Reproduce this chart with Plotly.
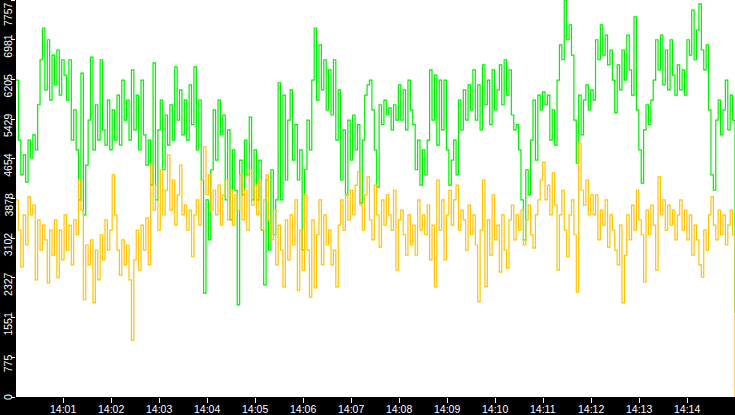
import pandas as pd
import plotly.graph_objects as go

# samples, ~3 s apart, 14:00:01 -> 14:15:00
green = [
    6190, 5020, 4340, 4730, 4200, 5020, 4670, 5120, 4830, 5710,
    6590, 7210, 6000, 6980, 5800, 6680, 6100, 6780, 5900, 6590,
    6290, 5800, 6590, 5020, 5610, 4830, 3850, 6330, 3560, 4530,
    5410, 6640, 4830, 5710, 5020, 6590, 5220, 4920, 5800, 4830,
    5610, 5020, 5900, 4920, 6190, 5410, 5800, 5020, 6390, 5220,
    5900, 4830, 6190, 5120, 4530, 5020, 4140, 6530, 3850, 5220,
    5800, 4440, 5510, 4920, 5710, 5020, 6450, 5410, 6000, 5120,
    5800, 5020, 6100, 5320, 6450, 4830, 5800, 4240, 2030, 3850,
    3070, 4440, 5610, 4630, 5800, 5120, 5510, 3850, 5220, 3460,
    4830, 4040, 1800, 4630, 3950, 5020, 4340, 5470, 3850, 4830,
    3850, 4630, 3260, 2190, 4240, 2870, 4440, 3170, 3850, 6140,
    3850, 5900, 4240, 5410, 6000, 4630, 5320, 4240, 4830, 2870,
    4440, 5410, 4830, 6190, 7210, 5800, 6880, 6000, 6590, 5610,
    6390, 5510, 6590, 5020, 6000, 4240, 5220, 3950, 5410, 4630,
    5510, 4830, 5320, 3790, 5020, 5900, 6100, 6190, 5610, 4830,
    4100, 5710, 5320, 5800, 5510, 5650, 5220, 5710, 5410, 6100,
    5410, 6000, 5220, 6190, 5610, 5320, 4440, 5020, 4140, 4830,
    4340, 5020, 6390, 5410, 6290, 4920, 6190, 5220, 6190, 4830,
    4140, 4630, 5020, 4340, 5800, 5220, 6000, 5410, 6100, 5610,
    6390, 5410, 6100, 5220, 6490, 5710, 6190, 5320, 6390, 5610,
    6000, 6490, 5710, 6590, 5900, 6390, 5510, 5220, 5320, 4830,
    3850, 3070, 4440, 3950, 5020, 5800, 4630, 5900, 5610, 5960,
    5710, 5900, 5020, 5610, 4920, 6190, 6880, 6590, 7757, 6980,
    7270, 6680, 5410, 4570, 5900, 5120, 5800, 6100, 5610, 6000,
    5800, 6980, 6590, 7270, 6680, 7070, 6490, 6780, 6190, 5550,
    6490, 6000, 6780, 6190, 7070, 6390, 5900, 7430, 5610, 4830,
    4180, 5220, 5710, 5320, 5800, 6190, 6980, 6390, 7070, 6100,
    6780, 6000, 6980, 6290, 5900, 6490, 6000, 6390, 5900, 6980,
    6680, 7560, 6590, 7170, 7680, 6780, 6390, 6880, 5610, 4340,
    4040, 5410, 5800, 5120, 5610, 6190, 5220, 5900, 5410, 1640,
]

orange = [
    3850, 3260, 2540, 3560, 2970, 3910, 3560, 3750, 2290, 3460,
    2870, 3360, 3070, 2230, 3260, 2770, 3460, 2330, 3260, 2680,
    3560, 2870, 3360, 2580, 3460, 3170, 4240, 3650, 1900, 2970,
    2580, 3070, 1840, 2870, 2290, 3170, 2680, 3460, 2870, 3260,
    4340, 3560, 2870, 2380, 3070, 2580, 2970, 2290, 1110, 2680,
    3260, 2480, 3360, 2870, 3500, 2580, 4530, 3650, 4140, 3260,
    4440, 3560, 4040, 4730, 3650, 4240, 3360, 3950, 4530, 3560,
    3750, 3260, 3650, 2740, 3560, 3850, 3360, 4240, 4890, 3950,
    4340, 3650, 4040, 3560, 4140, 3360, 3950, 4240, 3460, 4040,
    3360, 3950, 3650, 4340, 3460, 4040, 3260, 4440, 3750, 4140,
    3560, 4240, 3260, 3850, 4340, 3460, 3070, 3650, 2580, 3360,
    2870, 2150, 3460, 2680, 3560, 2970, 3850, 2090, 3260, 2480,
    3950, 2870, 1950, 3460, 2130, 3170, 3850, 2580, 3560, 2970,
    3260, 2580, 2870, 2150, 3360, 3850, 3260, 3950, 3460, 4040,
    3560, 4140, 4400, 3750, 3260, 3950, 4300, 3460, 3070, 4140,
    3560, 2930, 3850, 3360, 3950, 3560, 3260, 4040, 2480, 3460,
    3650, 3170, 2770, 3560, 2970, 3360, 2770, 3850, 3260, 3560,
    3170, 3750, 2680, 3360, 2150, 4240, 3260, 3850, 2680, 3560,
    4040, 3360, 3850, 4140, 3260, 3650, 3460, 2870, 3750, 3170,
    3560, 2970, 1860, 3260, 4240, 2150, 3460, 2770, 3950, 3070,
    3360, 2440, 3560, 2870, 2520, 3460, 3750, 3070, 3560, 3260,
    3650, 2970, 3460, 3750, 3170, 2910, 3560, 3850, 4240, 4590,
    3850, 4140, 3560, 4380, 3750, 2480, 3560, 4040, 3260, 2740,
    3560, 3850, 3170, 2050, 4960, 4040, 3750, 4240, 3560, 3950,
    3560, 3950, 3070, 3650, 3360, 3850, 2930, 3560, 3260, 2870,
    2580, 3360, 1840, 2770, 3560, 3070, 3750, 3260, 4040, 3460,
    3170, 2250, 3650, 3170, 3750, 3360, 2480, 4300, 3560, 3850,
    3260, 3750, 3360, 3650, 3070, 3560, 3850, 3260, 3650, 3070,
    3560, 2770, 3360, 3070, 2580, 2340, 3260, 2870, 3560, 3910,
    3360, 3070, 3650, 3170, 3560, 2970, 3360, 3650, 3170, 0,
]

y_max = 7757
y_tick_text = ["0", "775", "1551", "2327", "3102", "3878",
               "4654", "5429", "6205", "6981", "7757"]
x_tick_text = ["14:01", "14:02", "14:03", "14:04", "14:05", "14:06", "14:07",
               "14:08", "14:09", "14:10", "14:11", "14:12", "14:13", "14:14"]

day = "2024-01-01 "
t = pd.date_range(day + "14:00:01", day + "14:15:00", periods=len(green))
x_tick_vals = [pd.Timestamp(day + s) for s in x_tick_text]
y_tick_vals = [y_max * i / 10 for i in range(len(y_tick_text))]

fnt = dict(family="Liberation Sans, Arial", size=10.5, color="white")

fig = go.Figure()
fig.add_trace(go.Scatter(x=t, y=green, mode="lines", line_shape="hv",
                         line=dict(color="#00ee00", width=1.2)))
fig.add_trace(go.Scatter(x=t, y=orange, mode="lines", line_shape="hv",
                         line=dict(color="#ffc400", width=1.2)))

fig.update_layout(
    width=735, height=415,
    margin=dict(l=16, r=0, t=0, b=18, autoexpand=False),
    paper_bgcolor="black", plot_bgcolor="white",
    showlegend=False,
)
fig.update_xaxes(
    range=[t[0], t[-1]], tickvals=x_tick_vals, showticklabels=False,
    ticks="outside", ticklen=5, tickcolor="white", tickwidth=1,
    showgrid=False, zeroline=False, showline=False, automargin=False,
)
fig.update_yaxes(
    range=[0, y_max], tickvals=y_tick_vals, showticklabels=False,
    ticks="outside", ticklen=4, tickcolor="white", tickwidth=1,
    showgrid=False, zeroline=False, showline=False, automargin=False,
)

# time labels under the ticks
for v, s in zip(x_tick_vals, x_tick_text):
    fig.add_annotation(x=v, xref="x", y=0, yref="paper", text=s,
                       showarrow=False, font=fnt, yanchor="middle", yshift=-12)

# rotated y labels hang just below their tick, like the original
n = len(y_tick_text)
for i, (v, s) in enumerate(zip(y_tick_vals, y_tick_text)):
    if i == 0:
        shift = 0
    elif i == n - 1:
        shift = -14
    else:
        shift = -6
    fig.add_annotation(
        x=0, xref="paper", y=v, yref="y", text=s, showarrow=False,
        textangle=-90, font=fnt, xanchor="center", xshift=-8,
        yanchor="middle", yshift=shift,
    )

# the page body has a default margin; drop it so the chart sits at 0,0
fig.write_html("out.html", config={"displayModeBar": False},
               post_script="document.body.style.margin='0';")
